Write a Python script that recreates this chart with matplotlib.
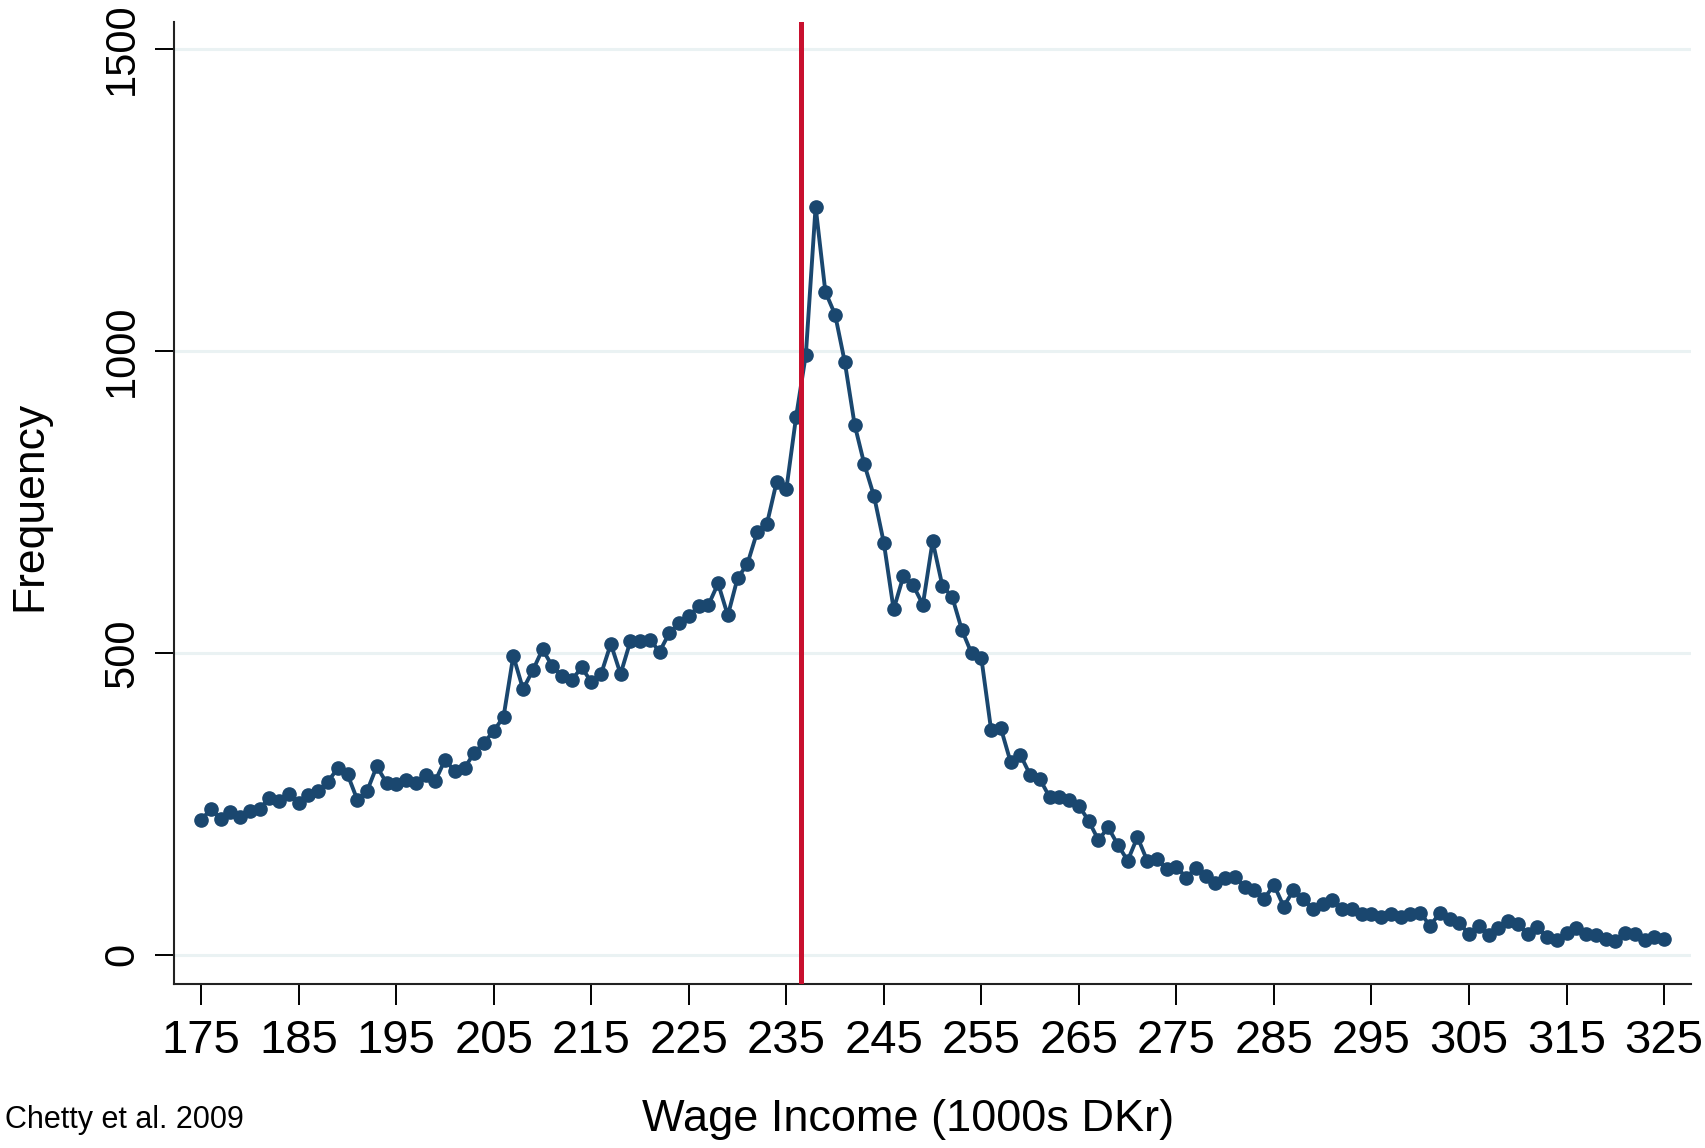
import numpy as np
import matplotlib
matplotlib.use("Agg")
import matplotlib.pyplot as plt

# wage income bins (1000s DKr) and counts
income = list(range(175, 326))
freq = [
    224, 241, 225, 236, 228, 239, 242, 260, 254, 266,   # 175-184
    251, 265, 272, 287, 309, 299, 257, 271, 312, 285,   # 185-194
    283, 290, 285, 298, 288, 323, 304, 309, 335, 351,   # 195-204
    371, 394, 495, 440, 471, 506, 478, 462, 455, 476,   # 205-214
    452, 465, 515, 465, 519, 520, 522, 502, 533, 549,   # 215-224
    561, 577, 579, 615, 562, 624, 647, 700, 713, 783,   # 225-234
    771, 891, 994, 1239, 1098, 1060, 981, 878, 812, 759,  # 235-244
    682, 572, 627, 612, 580, 685, 611, 593, 538, 499,   # 245-254
    491, 372, 375, 319, 331, 298, 291, 261, 262, 256,   # 255-264
    247, 222, 190, 211, 182, 156, 195, 156, 159, 142,   # 265-274
    146, 128, 144, 131, 119, 128, 129, 112, 107, 93,    # 275-284
    116, 80, 107, 92, 76, 85, 91, 76, 76, 67,           # 285-294
    67, 62, 68, 62, 67, 70, 48, 69, 60, 53,             # 295-304
    34, 48, 33, 45, 56, 51, 35, 46, 30, 25,             # 305-314
    37, 44, 34, 33, 26, 23, 37, 35, 25, 30,             # 315-324
    27,                                                 # 325
]
kink = 236.5

x_ticks = list(range(175, 326, 10))
y_ticks = [0, 500, 1000, 1500]

NAVY = "#1a476f"
GRID = "#eaf2f3"
RED = "#c8102e"

plt.rcParams["font.family"] = ["Liberation Sans", "DejaVu Sans"]

fig = plt.figure(figsize=(17.05, 11.48), dpi=100)
ax = fig.add_axes([0.102, 0.143, 0.890, 0.838])

ax.plot(income, freq, color=NAVY, lw=2.8, marker="o", ms=9.5,
        mfc=NAVY, mec=NAVY, zorder=3)
ax.axvline(kink, color=RED, lw=3.6, zorder=4)

ax.set_xlim(172.2, 327.8)
ax.set_ylim(-48, 1545)
ax.set_xticks(x_ticks)
ax.set_yticks(y_ticks)
ax.grid(axis="y", color=GRID, lw=2.2)
ax.set_axisbelow(True)

for side in ["top", "right"]:
    ax.spines[side].set_visible(False)
for side in ["left", "bottom"]:
    ax.spines[side].set_linewidth(1.5)
    ax.spines[side].set_color("#222222")

ax.tick_params(axis="x", length=15, width=1.4, pad=10, labelsize=34)
ax.tick_params(axis="y", length=14, width=1.4, pad=9, labelsize=30,
               labelrotation=90)
for lab in ax.get_yticklabels():
    lab.set_va("center")

fig.text(0.0178, 0.559, "Frequency", rotation=90, fontsize=32,
         ha="center", va="center")
fig.text(0.5326, 0.0244, "Wage Income (1000s DKr)", fontsize=32.5,
         ha="center", va="center")
fig.text(0.003, 0.0244, "Chetty et al. 2009", fontsize=22,
         ha="left", va="center")

fig.savefig("out.png", dpi=100, facecolor="white")
